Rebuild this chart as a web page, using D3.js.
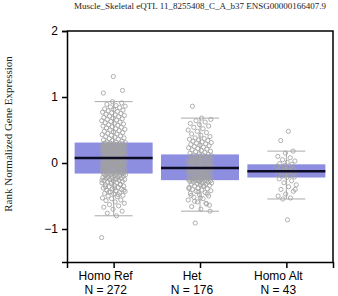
<!DOCTYPE html>
<meta charset="utf-8">
<style>
body { margin: 0; background: #fff; }
.axis text { font: 12px "Liberation Sans", Arial, sans-serif; fill: #000; }
.axis path, .axis line { fill: none; stroke: #000; stroke-width: 1.5; }
.title { font: 9px "Liberation Serif", "Times New Roman", serif; fill: #222; }
.ylabel { font: 11px "Liberation Serif", "Times New Roman", serif; fill: #222; }
.catlabel { font: 12px "Liberation Sans", Arial, sans-serif; fill: #000; }
</style>
<svg class="chart"></svg>
<script src="https://d3js.org/d3.v7.min.js"></script>
<script>

var categories = ["Homo Ref", "Het", "Homo Alt"];
var counts = [272, 176, 43];

// box summary
var q1 = [-0.16, -0.26, -0.22];
var medians = [0.076, -0.076, -0.126];
var q3 = [0.31, 0.13, -0.02];
var whiskerLow = [-0.80, -0.73, -0.545];
var whiskerHigh = [0.93, 0.68, 0.18];

var yTicks = [-1, 0, 1, 2];

// individual samples (estimated)
var homoRef = [
  -1.13,-0.80,-0.76,-0.73,-0.70,-0.67,-0.65,-0.63,-0.61,-0.59,
  -0.57,-0.56,-0.54,-0.53,-0.51,-0.50,-0.49,-0.47,-0.46,-0.45,
  -0.44,-0.43,-0.42,-0.41,-0.40,-0.39,-0.38,-0.37,-0.36,-0.35,
  -0.34,-0.33,-0.32,-0.31,-0.30,-0.30,-0.29,-0.28,-0.27,-0.27,
  -0.26,-0.25,-0.25,-0.24,-0.23,-0.23,-0.22,-0.22,-0.21,-0.21,
  -0.20,-0.20,-0.19,-0.19,-0.18,-0.18,-0.17,-0.17,-0.16,-0.16,
  -0.16,-0.15,-0.15,-0.15,-0.14,-0.14,-0.14,-0.13,-0.13,-0.13,
  -0.12,-0.12,-0.12,-0.11,-0.11,-0.11,-0.10,-0.10,-0.10,-0.09,
  -0.09,-0.09,-0.08,-0.08,-0.08,-0.07,-0.07,-0.07,-0.06,-0.06,
  -0.06,-0.05,-0.05,-0.05,-0.04,-0.04,-0.04,-0.03,-0.03,-0.03,
  -0.02,-0.02,-0.02,-0.01,-0.01,-0.01,0.00,0.00,0.00,0.01,
  0.01,0.01,0.02,0.02,0.02,0.03,0.03,0.03,0.04,0.04,
  0.04,0.05,0.05,0.05,0.06,0.06,0.06,0.07,0.07,0.07,
  0.08,0.08,0.08,0.09,0.09,0.09,0.10,0.10,0.10,0.11,
  0.11,0.11,0.12,0.12,0.12,0.13,0.13,0.13,0.14,0.14,
  0.14,0.15,0.15,0.15,0.16,0.16,0.16,0.17,0.17,0.17,
  0.18,0.18,0.18,0.19,0.19,0.19,0.20,0.20,0.20,0.21,
  0.21,0.21,0.22,0.22,0.22,0.23,0.23,0.23,0.24,0.24,
  0.24,0.25,0.25,0.25,0.26,0.26,0.26,0.27,0.27,0.27,
  0.28,0.28,0.28,0.29,0.29,0.29,0.30,0.30,0.30,0.31,
  0.31,0.32,0.33,0.34,0.35,0.36,0.37,0.38,0.39,0.40,
  0.41,0.42,0.43,0.44,0.45,0.46,0.47,0.48,0.49,0.50,
  0.51,0.52,0.53,0.54,0.55,0.56,0.57,0.58,0.59,0.60,
  0.61,0.62,0.63,0.64,0.65,0.66,0.67,0.68,0.69,0.70,
  0.71,0.72,0.73,0.74,0.75,0.76,0.77,0.78,0.79,0.80,
  0.81,0.82,0.84,0.85,0.86,0.87,0.89,0.91,0.93,1.06,
  -0.48,-0.44,-0.41,-0.38,-0.36,-0.33,-0.29,-0.26,-0.24,-0.22,
  1.10,1.31
];

var het = [
  -0.91,-0.73,-0.70,-0.66,-0.62,-0.59,-0.56,-0.54,-0.52,-0.50,
  -0.48,-0.46,-0.45,-0.43,-0.42,-0.41,-0.40,-0.39,-0.38,-0.37,
  -0.36,-0.35,-0.34,-0.33,-0.32,-0.32,-0.31,-0.30,-0.30,-0.29,
  -0.29,-0.28,-0.28,-0.27,-0.27,-0.27,-0.26,-0.26,-0.26,-0.25,
  -0.25,-0.24,-0.24,-0.23,-0.23,-0.22,-0.22,-0.21,-0.21,-0.20,
  -0.20,-0.19,-0.19,-0.18,-0.18,-0.17,-0.17,-0.16,-0.16,-0.15,
  -0.15,-0.14,-0.14,-0.13,-0.13,-0.12,-0.12,-0.11,-0.11,-0.10,
  -0.10,-0.10,-0.09,-0.09,-0.09,-0.08,-0.08,-0.08,-0.07,-0.07,
  -0.07,-0.06,-0.06,-0.05,-0.05,-0.04,-0.04,-0.03,-0.03,-0.02,
  -0.02,-0.01,-0.01,0.00,0.00,0.01,0.01,0.02,0.02,0.03,
  0.03,0.04,0.04,0.05,0.05,0.06,0.06,0.07,0.07,0.08,
  0.08,0.09,0.09,0.10,0.10,0.11,0.11,0.12,0.12,0.13,
  0.14,0.15,0.16,0.17,0.18,0.19,0.20,0.21,0.22,0.23,
  0.24,0.25,0.26,0.27,0.28,0.29,0.30,0.31,0.32,0.33,
  0.34,0.35,0.36,0.37,0.38,0.40,0.42,0.44,0.46,0.48,
  0.50,0.52,0.54,0.56,0.58,0.60,0.62,0.64,0.66,0.68,
  0.86,-0.47,-0.44,-0.39,-0.34,-0.58,-0.64,-0.53,-0.49,-0.61,
  -0.12,-0.05,-0.18,0.02,-0.22,-0.27
];

var homoAlt = [
  0.48,0.34,0.18,0.15,0.10,0.08,0.05,0.03,0.01,-0.01,
  -0.02,-0.04,-0.05,-0.07,-0.08,-0.09,-0.10,-0.11,-0.12,-0.12,
  -0.13,-0.14,-0.15,-0.16,-0.17,-0.18,-0.19,-0.20,-0.21,-0.22,
  -0.24,-0.27,-0.30,-0.33,-0.36,-0.40,-0.43,-0.47,-0.50,-0.53,
  -0.545,-0.40,-0.86
];

var samples = [homoRef, het, homoAlt];

var W = 338, H = 296;
var plotL = 67, plotR = 333, plotT = 31, plotB = 262;

var svg = d3.select(".chart")
    .attr("width", W)
    .attr("height", H);

var x = d3.scalePoint()
    .domain(categories)
    .range([plotL, plotR])
    .padding(0.54);

var y = d3.scaleLinear()
    .domain([-1.5, 2])
    .range([plotB, plotT]);

var boxW = 78, capW = 38;
var jitter = [12, 12, 10];

// frame top / right
svg.append("path")
    .attr("d", "M" + plotL + "," + plotT + "H" + plotR + "V" + plotB)
    .attr("fill", "none")
    .attr("stroke", "#000")
    .attr("stroke-width", 1.5);

var groups = svg.selectAll("g.box")
    .data(categories)
  .enter().append("g")
    .attr("class", "box")
    .attr("transform", function(d) { return "translate(" + x(d) + ",0)"; });

groups.append("rect")
    .attr("x", -boxW / 2)
    .attr("width", boxW)
    .attr("y", function(d, i) { return y(q3[i]); })
    .attr("height", function(d, i) { return y(q1[i]) - y(q3[i]); })
    .attr("fill", "#8e8ee0");

// whiskers
groups.append("line")
    .attr("y1", function(d, i) { return y(whiskerHigh[i]); })
    .attr("y2", function(d, i) { return y(whiskerLow[i]); })
    .attr("stroke", "#aaa");
groups.append("line")
    .attr("x1", -capW / 2).attr("x2", capW / 2)
    .attr("y1", function(d, i) { return y(whiskerHigh[i]); })
    .attr("y2", function(d, i) { return y(whiskerHigh[i]); })
    .attr("stroke", "#aaa");
groups.append("line")
    .attr("x1", -capW / 2).attr("x2", capW / 2)
    .attr("y1", function(d, i) { return y(whiskerLow[i]); })
    .attr("y2", function(d, i) { return y(whiskerLow[i]); })
    .attr("stroke", "#aaa");

// points, spread sideways by a fixed golden-ratio sequence
groups.each(function(d, gi) {
  d3.select(this).selectAll("circle")
      .data(samples[gi])
    .enter().append("circle")
      .attr("cx", function(v, i) { return (((i * 0.618034 + gi * 0.3) % 1) - 0.5) * 2 * jitter[gi]; })
      .attr("cy", function(v) { return y(v); })
      .attr("r", 2.1)
      .attr("fill", "none")
      .attr("stroke", "#a2a2a2")
      .attr("stroke-width", 0.85);
});

groups.append("line")
    .attr("x1", -boxW / 2).attr("x2", boxW / 2)
    .attr("y1", function(d, i) { return y(medians[i]); })
    .attr("y2", function(d, i) { return y(medians[i]); })
    .attr("stroke", "#0c0c24")
    .attr("stroke-width", 2.5);

svg.append("g")
    .attr("class", "axis")
    .attr("transform", "translate(" + plotL + ",0)")
    .call(d3.axisLeft(y).tickValues(yTicks).tickSize(5).tickPadding(4).tickFormat(d3.format("d")));

svg.append("g")
    .attr("class", "axis")
    .attr("transform", "translate(0," + plotB + ")")
    .call(d3.axisBottom(x).tickSize(6).tickFormat(""));

var labels = svg.selectAll("text.catlabel")
    .data(categories)
  .enter().append("text")
    .attr("class", "catlabel")
    .attr("text-anchor", "middle")
    .attr("transform", function(d) { return "translate(" + (x(d) - 8) + ",0)"; });
labels.append("tspan")
    .attr("x", 0).attr("y", 280)
    .text(function(d) { return d; });
labels.append("tspan")
    .attr("x", 0).attr("y", 294)
    .text(function(d, i) { return "N = " + counts[i]; });

svg.append("text")
    .attr("class", "title")
    .attr("x", 200)
    .attr("y", 9)
    .attr("text-anchor", "middle")
    .text("Muscle_Skeletal eQTL 11_8255408_C_A_b37 ENSG00000166407.9");

svg.append("text")
    .attr("class", "ylabel")
    .attr("transform", "translate(12,134) rotate(-90)")
    .attr("text-anchor", "middle")
    .text("Rank Normalized Gene Expression");

</script>
